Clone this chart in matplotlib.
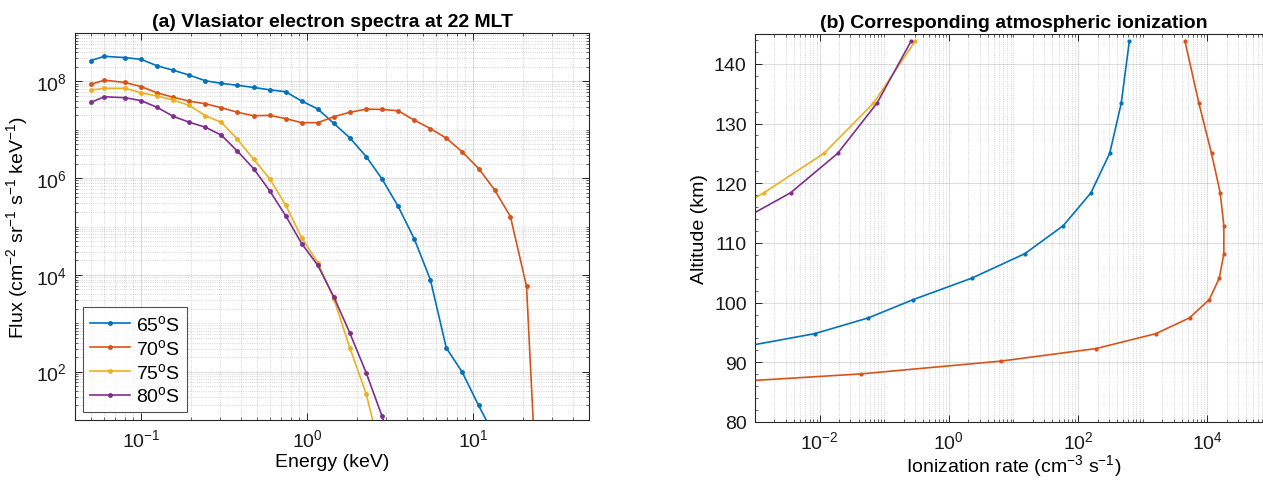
import numpy as np
import matplotlib
matplotlib.use("Agg")
import matplotlib.pyplot as plt
from matplotlib.ticker import LogLocator, NullFormatter, MultipleLocator, FixedLocator

plt.rcParams['font.family'] = ['Liberation Sans', 'DejaVu Sans']
plt.rcParams['mathtext.fontset'] = 'custom'
plt.rcParams['mathtext.rm'] = 'Liberation Sans'
plt.rcParams['mathtext.it'] = 'Liberation Sans:italic'
plt.rcParams['mathtext.bf'] = 'Liberation Sans:bold'

# ---------------- data ----------------
energy = [0.05, 0.06, 0.08, 0.1, 0.125, 0.156, 0.195, 0.244, 0.305, 0.381, 0.476,
          0.595, 0.744, 0.93, 1.16, 1.45, 1.81, 2.27, 2.83, 3.54, 4.42, 5.53, 6.9,
          8.6, 10.8, 13.5, 16.8, 21.0, 26.3]

flux_65 = [2.7e8, 3.3e8, 3.1e8, 2.85e8, 2.1e8, 1.7e8, 1.35e8, 1.03e8, 9.1e7, 8.3e7,
           7.5e7, 6.7e7, 6.1e7, 3.9e7, 2.7e7, 1.35e7, 6.8e6, 2.8e6, 9.6e5, 2.6e5,
           5.6e4, 8.0e3, 3.1e2, 98, 20, 4.6]
flux_70 = [8.7e7, 1.06e8, 9.5e7, 7.8e7, 5.8e7, 4.7e7, 3.9e7, 3.45e7, 2.85e7, 2.3e7,
           1.95e7, 1.98e7, 1.7e7, 1.4e7, 1.4e7, 1.86e7, 2.3e7, 2.67e7, 2.63e7, 2.47e7,
           1.58e7, 1.06e7, 6.7e6, 3.5e6, 1.58e6, 5.7e5, 1.6e5, 5.8e3, 1e-3]
flux_75 = [6.6e7, 7.2e7, 7.2e7, 5.8e7, 5.0e7, 4.1e7, 3.2e7, 1.95e7, 1.42e7, 6.3e6,
           2.46e6, 9.8e5, 2.75e5, 5.8e4, 1.8e4, 3.2e3, 3.1e2, 35, 1.6]
flux_80 = [3.7e7, 4.8e7, 4.6e7, 4.0e7, 2.9e7, 1.9e7, 1.43e7, 1.13e7, 7.7e6, 3.6e6,
           1.58e6, 5.5e5, 1.66e5, 4.4e4, 1.58e4, 3.5e3, 630, 95, 12, 1.0]

altitude = [143.8, 133.4, 125.0, 118.4, 112.9, 108.2, 104.1, 100.5, 97.45, 94.8,
            92.3, 90.2, 88.05, 86.2]
ion_65 = [620, 465, 308, 158, 59, 15, 2.26, 0.28, 0.057, 0.0084, 4.6e-4]
ion_70 = [4.5e3, 7.4e3, 1.16e4, 1.58e4, 1.8e4, 1.8e4, 1.53e4, 1.07e4, 5.3e3, 1.6e3,
          189, 6.4, 0.043, 7e-5]
ion_75 = [0.30, 0.068, 0.0116, 1.37e-3, 2e-4]
ion_80 = [0.26, 0.077, 0.019, 3.55e-3, 4.3e-4]

labels = ['65$^{\\mathrm{o}}$S', '70$^{\\mathrm{o}}$S', '75$^{\\mathrm{o}}$S', '80$^{\\mathrm{o}}$S']
colors = ['#0072BD', '#D95319', '#EDB120', '#7E2F8E']

# ---------------- figure ----------------
fig = plt.figure(figsize=(12.63, 4.81), dpi=100)
axL = fig.add_axes([0.0594, 0.1247, 0.407, 0.8046])
axR = fig.add_axes([0.5978, 0.1206, 0.4093, 0.8066])

edge = '#262626'
tick_fs = 14
lab_fs = 14


def style(ax):
    for s in ax.spines.values():
        s.set_color(edge)
        s.set_linewidth(0.8)
    ax.tick_params(which='both', direction='in', top=True, right=True,
                   colors=edge, labelcolor='#1a1a1a', labelsize=tick_fs)
    ax.tick_params(which='major', length=5, width=0.7, pad=6)
    ax.tick_params(which='minor', length=2.5, width=0.5)
    ax.grid(True, which='major', color='#262626', alpha=0.15, linewidth=0.8)
    ax.set_axisbelow(True)


# Left panel
fluxes = [flux_65, flux_70, flux_75, flux_80]
for f, c, lab in zip(fluxes, colors, labels):
    axL.plot(energy[:len(f)], f, '-', marker='.', color=c, lw=1.2, ms=5, label=lab)
axL.set_xscale('log')
axL.set_yscale('log')
axL.set_xlim(0.04, 50)
axL.set_ylim(10, 1e9)
style(axL)
axL.xaxis.set_major_locator(FixedLocator([0.1, 1, 10]))
axL.xaxis.set_minor_locator(LogLocator(base=10, subs=np.arange(2, 10), numticks=20))
axL.xaxis.set_minor_formatter(NullFormatter())
axL.yaxis.set_major_locator(FixedLocator([1e2, 1e4, 1e6, 1e8]))
axL.yaxis.set_minor_locator(LogLocator(base=10, subs=np.arange(1, 10), numticks=30))
axL.yaxis.set_minor_formatter(NullFormatter())
axL.grid(True, which='minor', color='#262626', alpha=0.25, linewidth=0.6, linestyle=':')
axL.set_xlabel('Energy (keV)', fontsize=lab_fs, labelpad=2)
axL.set_ylabel('Flux (cm$^{-2}$ sr$^{-1}$ s$^{-1}$ keV$^{-1}$)', fontsize=lab_fs)
axL.set_title('(a) Vlasiator electron spectra at 22 MLT', fontsize=14, fontweight='bold', pad=5)
leg = axL.legend(loc='lower left', fontsize=14, frameon=True, fancybox=False,
                 edgecolor=edge, handlelength=2.1, borderpad=0.35, labelspacing=0.2,
                 handletextpad=0.3, borderaxespad=0.4)
leg.get_frame().set_linewidth(0.8)

# Right panel
ions = [ion_65, ion_70, ion_75, ion_80]
for r, c in zip(ions, colors):
    axR.plot(r, altitude[:len(r)], '-', marker='.', color=c, lw=1.2, ms=4)
axR.set_xscale('log')
axR.set_xlim(1e-3, 1e5)
axR.set_ylim(80, 145)
style(axR)
axR.xaxis.set_major_locator(FixedLocator([1e-2, 1, 1e2, 1e4]))
minor_x = [m * 10.0 ** k for k in range(-3, 5) for m in range(1, 10)
           if not (m == 1 and k % 2 == 0)]
axR.xaxis.set_minor_locator(FixedLocator(minor_x))
axR.xaxis.set_minor_formatter(NullFormatter())
axR.grid(True, which='minor', axis='x', color='#262626', alpha=0.25, linewidth=0.6, linestyle=':')
axR.yaxis.set_major_locator(MultipleLocator(10))
axR.yaxis.set_minor_locator(MultipleLocator(2))
axR.set_xlabel('Ionization rate (cm$^{-3}$ s$^{-1}$)', fontsize=lab_fs, labelpad=0)
axR.set_ylabel('Altitude (km)', fontsize=lab_fs)
axR.set_title('(b) Corresponding atmospheric ionization', fontsize=14, fontweight='bold', pad=5)

fig.savefig('out.png', dpi=100)
